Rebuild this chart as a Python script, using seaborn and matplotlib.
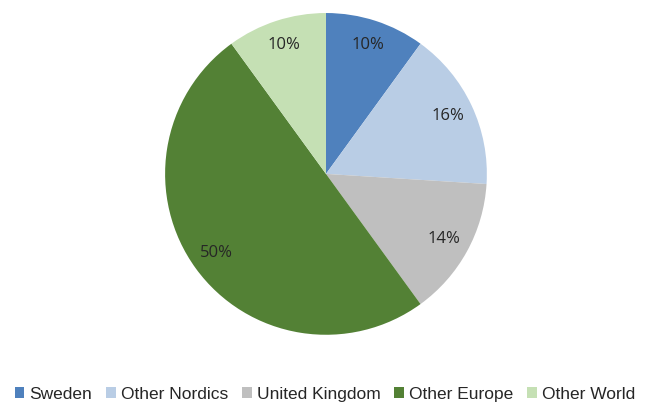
import matplotlib.pyplot as plt
import seaborn as sns
from matplotlib.patches import Patch

labels = ["Sweden", "Other Nordics", "United Kingdom", "Other Europe", "Other World"]
shares = [10, 16, 14, 50, 10]
colors = ["#4F81BD", "#B9CDE5", "#BFBFBF", "#538135", "#C5E0B4"]

sns.set_theme(style="white")
plt.rcParams['font.family'] = ['Liberation Sans', 'DejaVu Sans']

fig = plt.figure(figsize=(6.5, 4.03), dpi=100)
ax = fig.add_axes([0.254, 0.169, 0.495, 0.799])

wedges, texts, autotexts = ax.pie(
    shares, colors=colors, startangle=90, counterclock=False,
    autopct=lambda p: f"{p:.0f}%", pctdistance=0.84,
    wedgeprops=dict(linewidth=0),
    textprops=dict(fontsize=12, color="#262626", family=["Open Sans", "DejaVu Sans"]),
)
ax.set_aspect("equal")
ax.set_xlim(-1, 1)
ax.set_ylim(-1, 1)

handles = [Patch(facecolor=c, edgecolor="none") for c in colors]
fig.legend(handles, labels, loc="center", bbox_to_anchor=(0.5, 0.022), ncol=5,
           frameon=False, fontsize=12.5, handlelength=0.55, handleheight=0.55,
           handletextpad=0.3, columnspacing=0.8, labelcolor="#262626")

fig.savefig("out.png", dpi=100)
